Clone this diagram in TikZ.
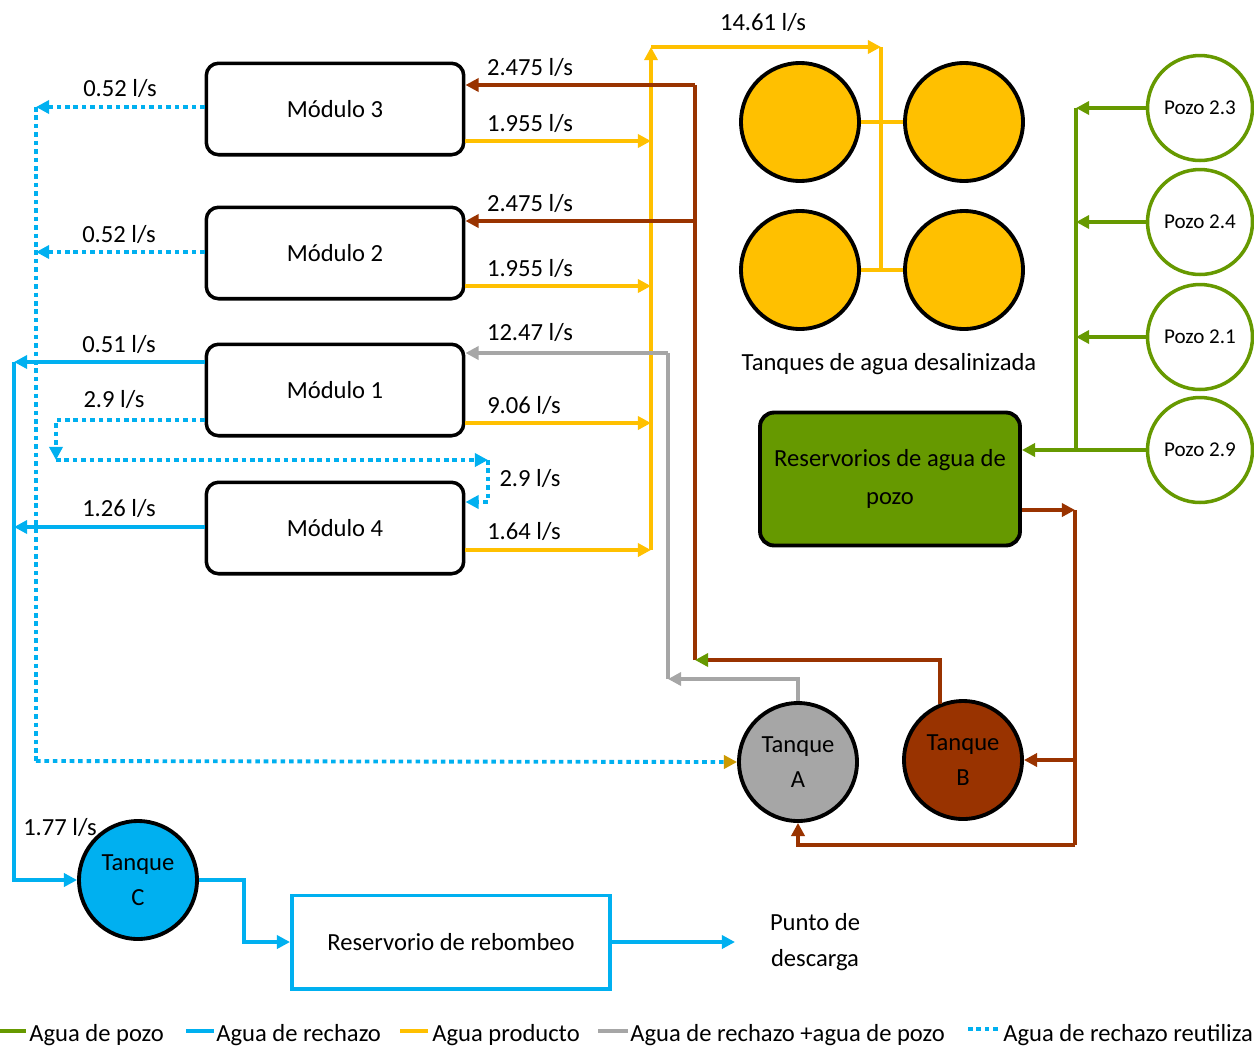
\documentclass[tikz,border=0pt]{standalone}
\usepackage{fontspec}
\setmainfont{Carlito}
\usetikzlibrary{arrows.meta,positioning}

\definecolor{producto}{HTML}{FFC000}
\definecolor{rechazo}{HTML}{00B0F0}
\definecolor{pozo}{HTML}{669900}
\definecolor{mezcla}{HTML}{A6A6A6}
\definecolor{marron}{HTML}{993300}
\definecolor{dorado}{HTML}{CC9900}

\tikzset{
  modulo/.style={draw, line width=2pt, rounded corners=7pt, minimum width=5.15cm, minimum height=1.83cm},
  tanque/.style={circle, draw, line width=2.2pt, minimum size=2.36cm, align=center, inner sep=0pt},
  fuente/.style={circle, draw=pozo, line width=2pt, fill=white, minimum size=2.1cm, font=\fontsize{12}{14}\selectfont},
  flecha/.style={-{Triangle[length=7.5pt,width=7.5pt]}},
  agua/.style={line width=2.2pt},
  reuso/.style={line width=2.2pt, rechazo, dash pattern=on 2.6pt off 2.2pt},
  leyenda/.style={anchor=west, inner sep=0pt},
}

\begin{document}
\begin{tikzpicture}[x=0.02cm, y=-0.02cm, font=\fontsize{14}{20}\selectfont]
\useasboundingbox (0,0) rectangle (1254,1049);

% modulos
\node[modulo] (mod3) at (335,109) {Módulo 3};
\node[modulo] (mod2) at (335,253) {Módulo 2};
\node[modulo] (mod1) at (335,390) {Módulo 1};
\node[modulo] (mod4) at (335,528) {Módulo 4};

% tanques de agua desalinizada
\node[tanque, fill=producto] (td1) at (800,122) {};
\node[tanque, fill=producto] (td2) at (964,122) {};
\node[tanque, fill=producto] (td3) at (800,270) {};
\node[tanque, fill=producto] (td4) at (964,270) {};
\node (tdlab) at (889,364) {Tanques de agua desalinizada};

% reservorio y pozos
\node[draw, line width=2.2pt, fill=pozo, rounded corners=8pt, minimum width=5.2cm, minimum height=2.66cm, align=center, font=\fontsize{14}{21.5}\selectfont] (res) at (890,479) {Reservorios de agua de\\pozo};
\node[fuente] (p23) at (1200,108) {Pozo 2.3};
\node[fuente] (p24) at (1200,222) {Pozo 2.4};
\node[fuente] (p21) at (1200,337) {Pozo 2.1};
\node[fuente] (p29) at (1200,450) {Pozo 2.9};

% tanques A, B, C
\node[tanque, fill=mezcla] (tA) at (798,762) {Tanque\\A};
\node[tanque, fill=marron] (tB) at (963,760) {Tanque\\B};
\node[tanque, fill=rechazo] (tC) at (138,880) {Tanque\\C};

% rebombeo y descarga
\node[draw=rechazo, line width=2pt, minimum width=6.37cm, minimum height=1.87cm] (reb) at (451,942) {Reservorio de rebombeo};
\node[align=center] (desc) at (815,942) {Punto de\\descarga};
\coordinate (pd) at (735,942);

% bus agua producto
\coordinate (pb) at (651,550);
\coordinate (pt) at (651,47);
\coordinate (pr) at (881,47);
\coordinate (pe) at (881,270);
\coordinate (o3) at (651,141);
\coordinate (o2) at (651,286);
\coordinate (o1) at (651,423);
\draw[agua, producto, flecha] (mod3.east |- o3) -- (o3);
\draw[agua, producto, flecha] (mod2.east |- o2) -- (o2);
\draw[agua, producto, flecha] (mod1.east |- o1) -- (o1);
\draw[agua, producto, flecha] (mod4.east |- pb) -- (pb);
\draw[agua, producto, flecha] (pb) -- (pt);
\draw[agua, producto, flecha] (pt) -- (pr);
\draw[agua, producto] (pr) -- (pe);
\draw[agua, producto] (td1.east) -- (td2.west);
\draw[agua, producto] (td3.east) -- (td4.west);

% agua de pozo
\coordinate (vb) at (1076,108);
\draw[agua, pozo] (vb) -- (vb |- p29);
\foreach \p in {p23,p24,p21}
  \draw[agua, pozo, flecha] (\p.west) -- (\p.west -| vb);
\draw[agua, pozo, flecha] (p29.west) -- (res.east |- p29);

% tanque B -> modulos 3 y 2
\coordinate (mb) at (695,660);
\coordinate (m3) at (695,85);
\coordinate (m2) at (695,221);
\draw[agua, marron] (mb) -- (m3);
\draw[agua, marron, flecha] (m3) -- (mod3.east |- m3);
\draw[agua, marron, flecha] (m2) -- (mod2.east |- m2);
\draw[agua, marron, -{Triangle[length=7.5pt,width=7.5pt,color=pozo]}] (tB.112) |- (mb);

% reservorio -> tanques A y B
\coordinate (rb) at (1075,510);
\coordinate (rbb) at (1075,845);
\draw[agua, marron, flecha] (res.east |- rb) -- (rb);
\draw[agua, marron] (rb) -- (rbb);
\draw[agua, marron, flecha] (tB.east -| rb) -- (tB.east);
\draw[agua, marron, flecha] (rbb) -| (tA.south);

% tanque A -> modulo 1
\coordinate (gA) at (668,679);
\coordinate (g1) at (668,353);
\draw[agua, mezcla, flecha] (tA.north) |- (gA);
\draw[agua, mezcla] (gA) -- (g1);
\draw[agua, mezcla, flecha] (g1) -- (mod1.east |- g1);

% agua de rechazo
\coordinate (rt) at (14,362);
\coordinate (r4) at (14,527);
\coordinate (cc) at (244,880);
\draw[agua, rechazo, flecha] (mod1.west |- rt) -- (rt);
\draw[agua, rechazo, flecha] (mod4.west |- r4) -- (r4);
\draw[agua, rechazo, flecha] (rt) |- (tC.west);
\draw[agua, rechazo, flecha] (tC.east) -- (cc) |- (reb.west);
\draw[agua, rechazo, flecha] (reb.east) -- (pd);

% agua de rechazo reutilizada
\coordinate (dt) at (36,107);
\coordinate (d2) at (36,252);
\coordinate (db) at (36,761);
\draw[reuso, flecha] (mod3.west |- dt) -- (dt);
\draw[reuso, flecha] (mod2.west |- d2) -- (d2);
\draw[reuso] (dt) -- (db);
\draw[reuso, -{Triangle[length=7.5pt,width=7.5pt,color=dorado]}] (db) -- (tA.west);
\coordinate (d1a) at (56,420);
\coordinate (d1b) at (56,460);
\coordinate (d1c) at (488,460);
\coordinate (d1d) at (488,502);
\draw[reuso, flecha] (mod1.west |- d1a) -| (d1b);
\draw[reuso, flecha] (d1b) -- (d1c);
\draw[reuso, flecha] (d1c) -- (d1d) -- (mod4.east |- d1d);

% caudales
\node (q0) at (763,22) {14.61 l/s};
\node (q1) at (530,67) {2.475 l/s};
\node (q2) at (530,123) {1.955 l/s};
\node (q3) at (530,203) {2.475 l/s};
\node (q4) at (530,268) {1.955 l/s};
\node (q5) at (530,332) {12.47 l/s};
\node (q6) at (524,405) {9.06 l/s};
\node (q7) at (530,478) {2.9 l/s};
\node (q8) at (524,531) {1.64 l/s};
\node (q9) at (120,88) {0.52 l/s};
\node (q10) at (119,234) {0.52 l/s};
\node (q11) at (119,344) {0.51 l/s};
\node (q12) at (114,399) {2.9 l/s};
\node (q13) at (119,508) {1.26 l/s};
\node (q14) at (60,827) {1.77 l/s};

% leyenda
\draw[agua, pozo] (0,1031) -- (26,1031);
\node[leyenda] (l1) at (29,1035) {Agua de pozo};
\draw[agua, rechazo] (186,1031) -- (214,1031);
\node[leyenda] (l2) at (216,1035) {Agua de rechazo};
\draw[agua, producto] (400,1031) -- (428,1031);
\node[leyenda] (l3) at (432,1035) {Agua producto};
\draw[agua, mezcla] (598,1031) -- (628,1031);
\node[leyenda] (l4) at (630,1035) {Agua de rechazo +agua de pozo};
\draw[reuso] (968,1029) -- (1001,1029);
\node[leyenda] (l5) at (1003,1035) {Agua de rechazo reutiliza};

\end{tikzpicture}
\end{document}
